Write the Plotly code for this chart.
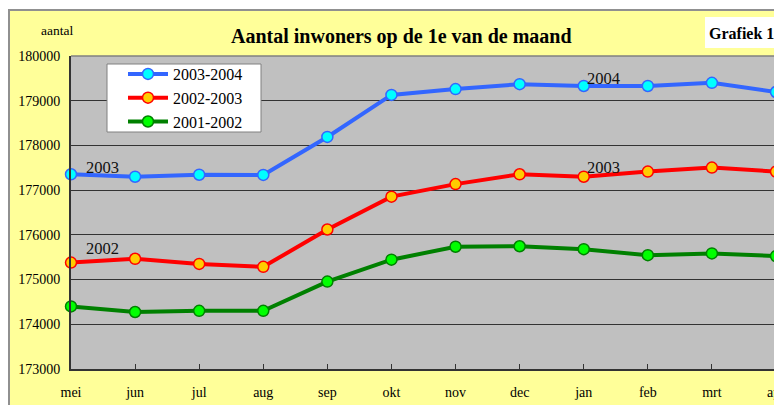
import plotly.graph_objects as go

months = ["mei", "jun", "jul", "aug", "sep", "okt", "nov", "dec", "jan", "feb", "mrt", "apr"]
s_2003_2004 = [177355, 177300, 177345, 177340, 178190, 179130, 179260, 179370, 179330, 179330, 179400, 179195]
s_2002_2003 = [175380, 175465, 175350, 175285, 176120, 176855, 177135, 177355, 177300, 177415, 177505, 177415]
s_2001_2002 = [174400, 174275, 174300, 174300, 174955, 175445, 175735, 175745, 175680, 175545, 175585, 175525]
y_ticks = [173000, 174000, 175000, 176000, 177000, 178000, 179000, 180000]

# the page body has an 8px margin, so page coordinates = figure coordinates + 8
OFF = 8
W, H = 782, 405
L, R, T, B = 63, 14, 48, 44
PW = W - L - R
PH = H - T - B

def px(x):  # page pixel -> paper x
    return (x - OFF - L) / PW

def py(y):  # page pixel -> paper y
    return (H - B - (y - OFF)) / PH

serif = "Liberation Serif, Times New Roman, Times, serif"

fig = go.Figure()
series = [
    ("2003-2004", s_2003_2004, "#3366FF", "#00FFFF"),
    ("2002-2003", s_2002_2003, "#FF0000", "#FFCC00"),
    ("2001-2002", s_2001_2002, "#008000", "#00FF00"),
]
for name, vals, lc, mc in series:
    fig.add_trace(go.Scatter(
        x=months, y=vals, name=name, mode="lines+markers",
        line=dict(color=lc, width=4),
        marker=dict(size=11, color=mc, line=dict(color=lc, width=1.5)),
        cliponaxis=False,
    ))

# top white strip and grey border of the yellow chart area
fig.add_shape(type="rect", xref="paper", yref="paper",
              x0=px(0), x1=px(800), y0=py(9.2), y1=py(0),
              fillcolor="white", line=dict(width=0), layer="above")
fig.add_shape(type="line", xref="paper", yref="paper",
              x0=px(8), x1=px(800), y0=py(10), y1=py(10),
              line=dict(color="#909090", width=2), layer="above")
fig.add_shape(type="line", xref="paper", yref="paper",
              x0=px(9), x1=px(9), y0=py(420), y1=py(10),
              line=dict(color="#909090", width=2), layer="above")

# legend box
fig.add_shape(type="rect", xref="paper", yref="paper",
              x0=px(107), x1=px(261), y0=py(132), y1=py(64),
              fillcolor="white", line=dict(color="#808080", width=1), layer="above")

# Grafiek 1 box
fig.add_shape(type="rect", xref="paper", yref="paper",
              x0=px(705), x1=px(779), y0=py(48), y1=py(17),
              fillcolor="white", line=dict(width=0), layer="above")

def label(text, x, y, size, color="black"):
    fig.add_annotation(text=text, xref="paper", yref="paper", x=px(x), y=py(y),
                       xanchor="center", yanchor="middle", showarrow=False,
                       font=dict(family=serif, size=size, color=color))

label("<b>Grafiek 1</b>", 741, 33, 16)
label("<b>Aantal inwoners op de 1e van de maand</b>", 401, 36, 20)
label("aantal", 56.5, 31, 13.5)
for txt, x, y in [("2003", 102.5, 167), ("2002", 102.5, 248), ("2004", 603, 78), ("2003", 603, 167)]:
    label(txt, x, y, 16.5, "#111111")

fig.update_layout(
    width=W, height=H,
    margin=dict(l=L, r=R, t=T, b=B, pad=0, autoexpand=False),
    paper_bgcolor="#FFFF99",
    plot_bgcolor="#C0C0C0",
    showlegend=True,
    legend=dict(x=px(123), y=py(57), xanchor="left", yanchor="top",
                bgcolor="rgba(0,0,0,0)", borderwidth=0,
                font=dict(family=serif, size=16, color="black"),
                itemwidth=40, tracegroupgap=0),
    font=dict(family=serif, color="black"),
)
fig.update_xaxes(
    type="category", range=[0, 11], showgrid=False, automargin=False,
    showline=True, linecolor="#333333", linewidth=2,
    ticks="inside", ticklen=5, tickcolor="#333333",
    tickfont=dict(family=serif, size=14, color="black"),
    ticklabelstandoff=9, zeroline=False,
)
fig.update_yaxes(
    range=[173000, 180000], tickvals=y_ticks, ticktext=[str(v) for v in y_ticks],
    showgrid=True, gridcolor="#333333", gridwidth=1, automargin=False,
    showline=True, linecolor="#333333", linewidth=2,
    tickfont=dict(family=serif, size=14, color="black"),
    ticklabelstandoff=6, zeroline=False,
)
fig.add_shape(type="line", xref="paper", yref="paper", x0=1, x1=1, y0=0, y1=1,
              line=dict(color="#808080", width=2))
fig.add_shape(type="line", xref="paper", yref="paper", x0=0, x1=1, y0=1, y1=1,
              line=dict(color="#808080", width=1.5))

fig.write_html("out.html")
